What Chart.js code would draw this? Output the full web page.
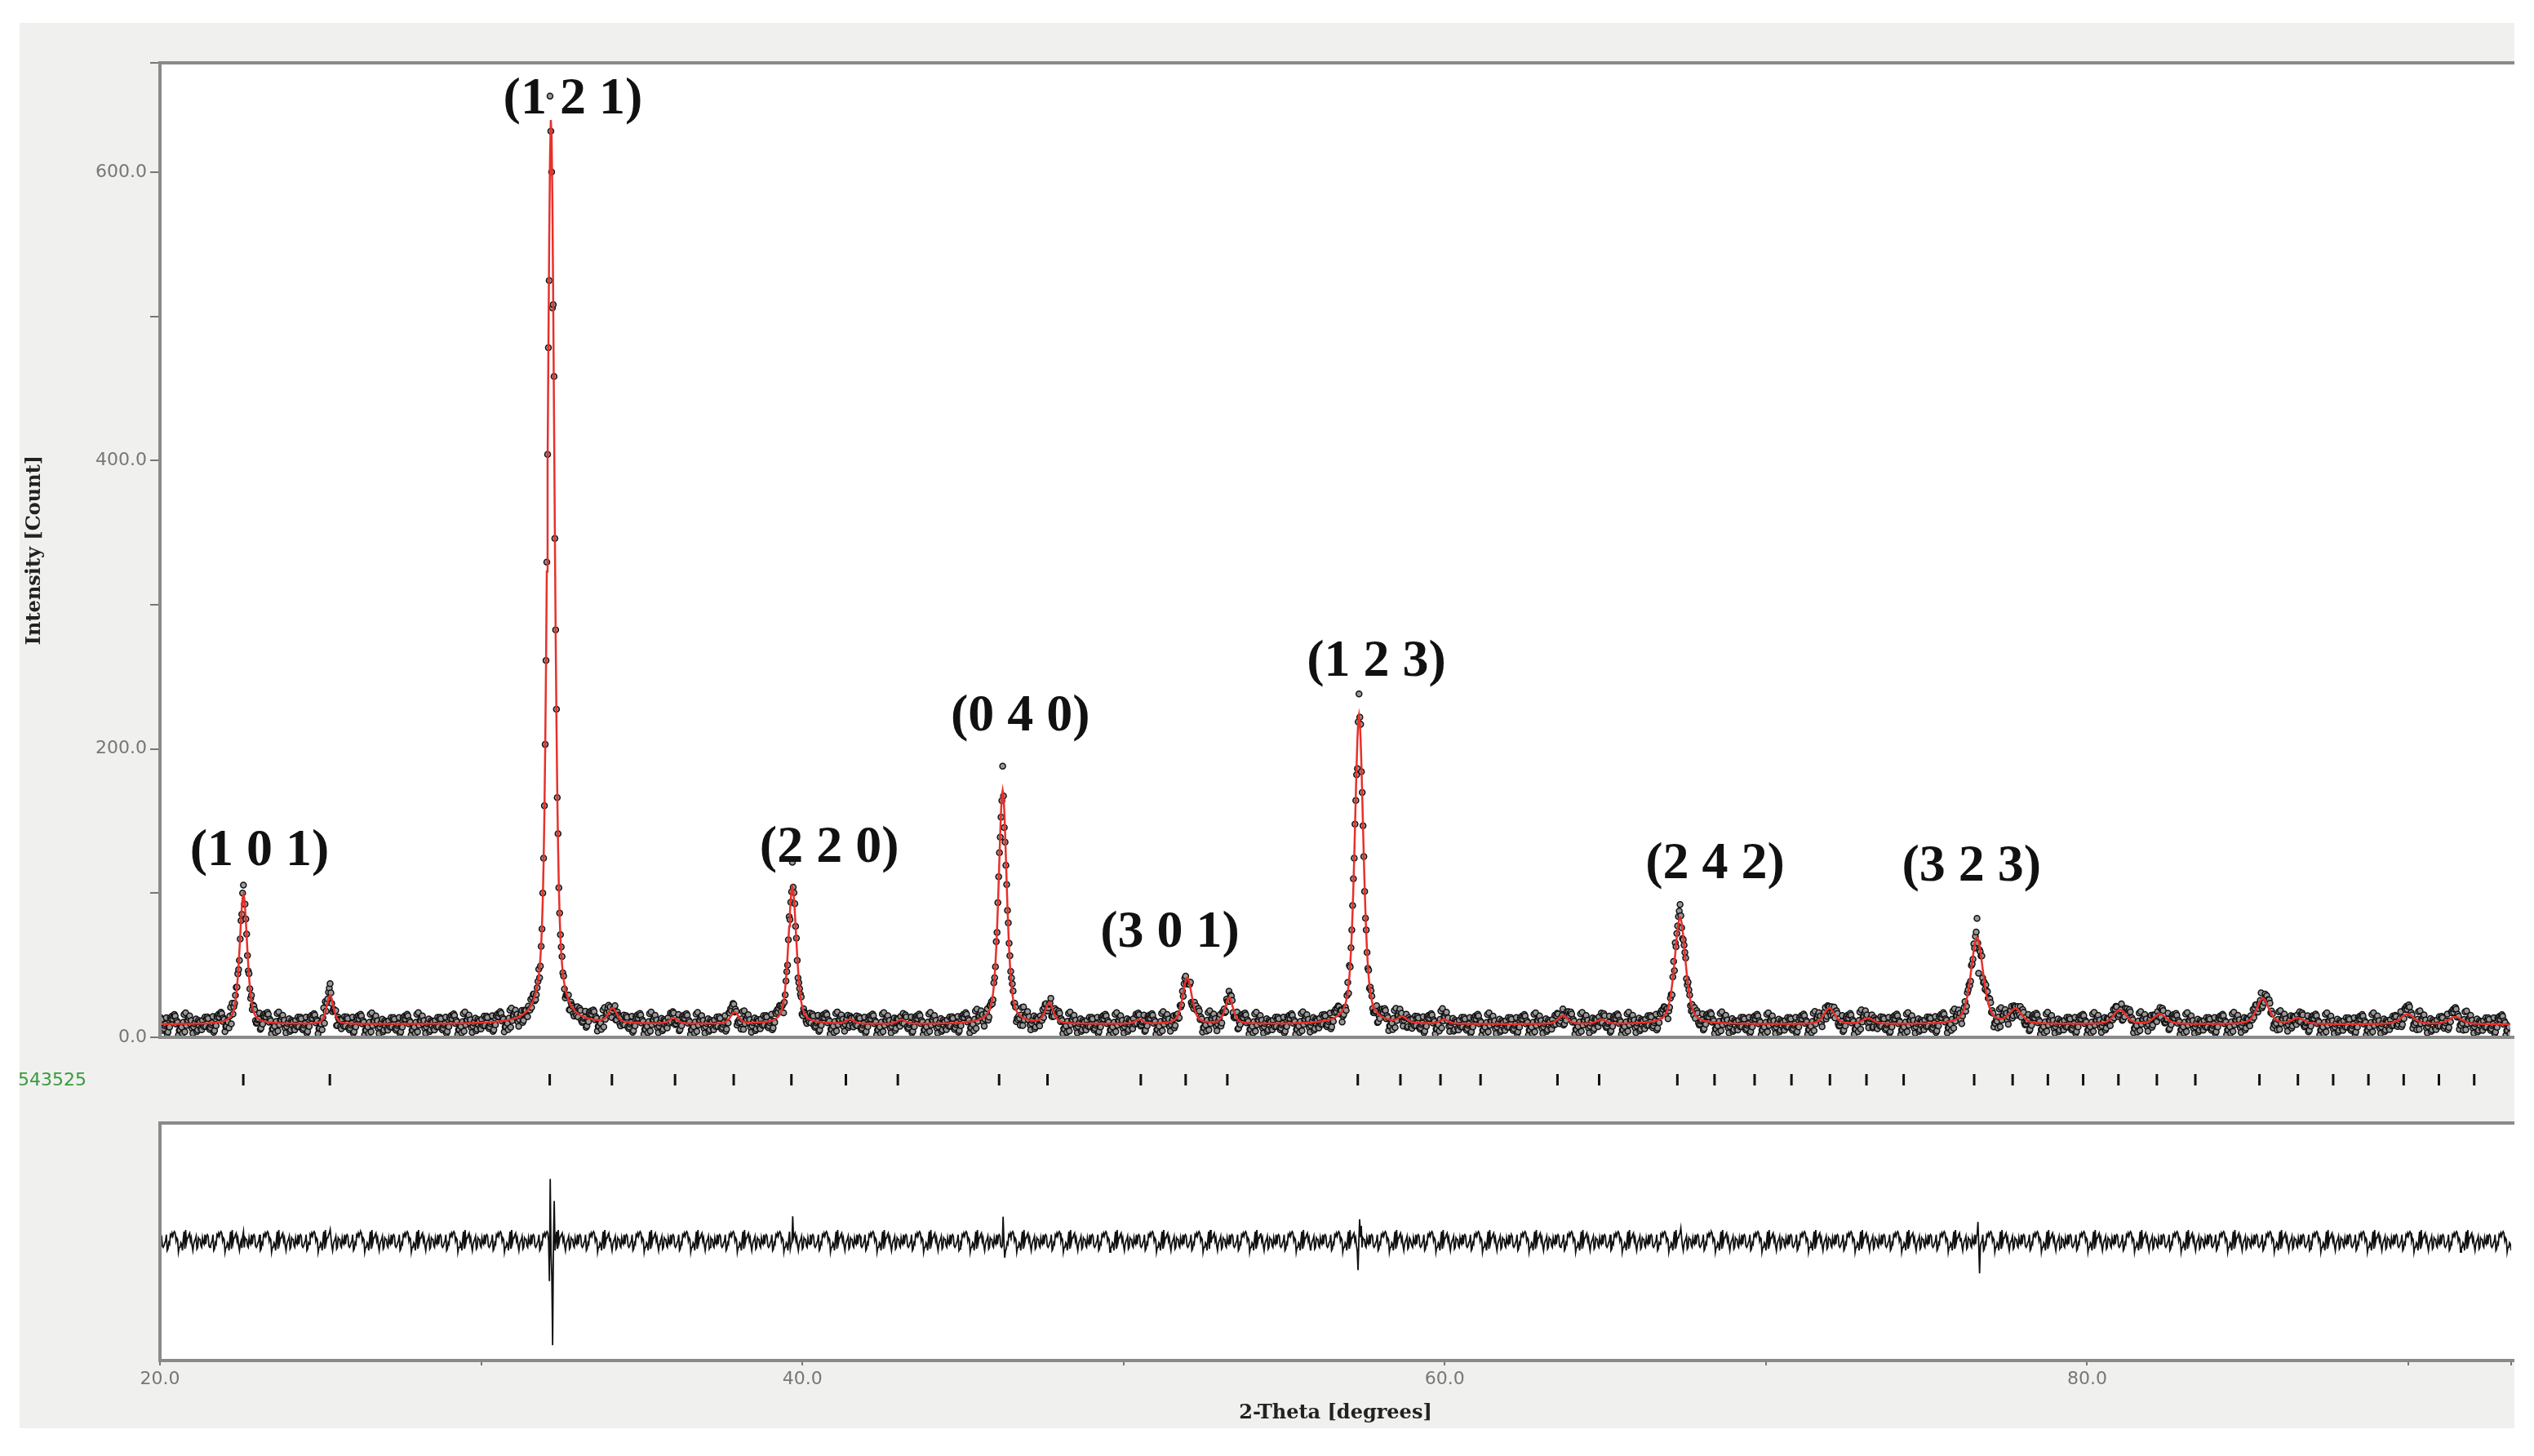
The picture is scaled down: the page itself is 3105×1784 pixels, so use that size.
<!DOCTYPE html>
<html><head><meta charset="utf-8">
<script src="https://cdn.jsdelivr.net/npm/chart.js@4.4.0/dist/chart.umd.min.js"></script>
<style>
body{margin:0;background:#fff;width:3105px;height:1784px;position:relative;overflow:hidden}
#panel{position:absolute;left:24px;top:28px;width:3057px;height:1722px;background:#f0f0ef}
.c{position:absolute;left:24px;width:3057px}
#w1{top:28px;height:1262px}
#w2{top:1300px;height:46px}
#w3{top:1340px;height:410px}
#phase{position:absolute;left:22px;top:1310px;font:22px "DejaVu Sans";color:#3a9a3a}
</style></head><body>
<div id="panel"></div>
<div class="c" id="w1"><canvas id="c1"></canvas></div>
<div class="c" id="w2"><canvas id="c2"></canvas></div>
<div class="c" id="w3"><canvas id="c3"></canvas></div>
<div id="phase">543525</div>
<script>
// ---- data ----
const xRange = [20, 93.2];
const background = 9;
const peakPos    = [22.6, 25.3, 32.18, 34.1, 36.0, 37.9, 39.7, 41.5, 43.1, 46.25, 47.7, 50.5, 52.0, 53.3, 57.35, 58.7, 60.0, 63.7, 64.9, 67.35, 72.0, 73.2, 76.6, 77.8, 81.05, 82.3, 85.5, 86.6, 90.0, 91.5];
const peakHeight = [90,   20,   628,   10,   4,    8,    95,   3,    3,    162,   14,   3,    32,   18,   214,   4,    3,    6,    3,    74,    11,   4,    60,   10,   10,   7,    18,   4,    7,    5];
const peakFwhm   = [0.28, 0.25, 0.26,  0.3,  0.3,  0.3,  0.3,  0.3,  0.3,  0.3,   0.3,  0.3,  0.34, 0.3,  0.32,  0.3,  0.3,  0.35, 0.35, 0.4,   0.4,  0.4,  0.45, 0.45, 0.45, 0.45, 0.45, 0.45, 0.5,  0.5];
const noise = [3,-4,1,5,-2,-6,2,4,-1,-3,6,0,-5,2,3,-2,-4,5,1,-1,4,-3,-6,2,0,3,-2,5,-4,1,-1,2,-5,4,0,-3,6,-2,1,-4,3,2,-1,-5,4,-7,2,5,-3,0,7,-2,-4,1,3,-6,4,-1];
const resid = [[22.6,12],[22.55,-6],[25.3,8],[32.125,-30],[32.15,42],[32.2,-20],[32.225,-68],[32.275,30],[39.7,15],[39.65,-10],[46.25,18],[46.3,-16],[57.35,14],[57.3,-18],[57.4,16],[67.35,9],[76.6,10],[76.65,-18]];
const reflections = [22.6,25.3,32.16,34.1,36.07,37.9,39.7,41.4,43.02,46.18,47.69,50.6,52.0,53.3,57.37,58.7,59.95,61.2,63.6,64.9,67.34,68.5,69.75,70.9,72.1,73.24,74.4,76.6,77.8,78.9,80.0,81.1,82.3,83.5,85.5,86.7,87.8,88.9,90.0,91.1,92.2];
const hkl = [["(1 0 1)",23.1,129],["(1 2 1)",32.86,650],["(2 2 0)",40.85,131],["(0 4 0)",46.8,222],["(3 0 1)",51.46,72],["(1 2 3)",57.89,260],["(2 4 2)",68.44,120],["(3 2 3)",76.43,118]];
const yTicks = {min:0,max:676,step:100};
const step = 0.025;
// ---- build profiles ----
function prof(x){let s=background;for(let i=0;i<peakPos.length;i++){const g=peakFwhm[i]/2;const d=(x-peakPos[i])/g;s+=peakHeight[i]*(0.5/(1+d*d)+0.5*Math.exp(-0.693*d*d));}return s;}
const calc=[],obs=[],diff=[];
let k=0;
for(let x=xRange[0];x<=xRange[1]+1e-9;x+=step,k++){
  const xr=Math.round(x*1000)/1000;const c=prof(xr);
  let r=noise[(k*7)%noise.length]*1.1;
  for(const [p,v] of resid){if(Math.abs(p-xr)<step/2)r+=v;}
  calc.push({x:xr,y:c});obs.push({x:xr,y:Math.max(0,c+r)});diff.push({x:xr,y:r});
}
const grey='#777';
const bg={id:'bg',beforeDraw(ch){const a=ch.chartArea,ctx=ch.ctx;ctx.save();ctx.fillStyle='#fff';ctx.fillRect(a.left,a.top,a.right-a.left+20,a.bottom-a.top);ctx.restore();}};
const border={id:'border',afterDraw(ch){const a=ch.chartArea,ctx=ch.ctx;ctx.save();ctx.strokeStyle='#8a8a8a';ctx.lineWidth=4;ctx.beginPath();ctx.moveTo(a.right+10,a.top);ctx.lineTo(a.left,a.top);ctx.lineTo(a.left,a.bottom);ctx.lineTo(a.right+10,a.bottom);ctx.stroke();ctx.restore();}};
const labels={id:'hkl',afterDraw(ch){const ctx=ch.ctx;ctx.save();ctx.font='600 64px "Liberation Serif"';ctx.fillStyle='#111';ctx.textAlign='center';ctx.textBaseline='middle';for(const [t,x,y] of hkl){ctx.fillText(t,ch.scales.x.getPixelForValue(x),ch.scales.y.getPixelForValue(y));}ctx.restore();}};
const opt0={responsive:true,maintainAspectRatio:false,animation:false,events:[],plugins:{legend:{display:false},tooltip:{enabled:false}}};
new Chart(document.getElementById('c1'),{type:'scatter',
 data:{datasets:[
  {data:calc,showLine:true,borderColor:'#e8302a',borderWidth:2.5,pointRadius:0,order:1},
  {data:obs,showLine:false,pointRadius:3.5,backgroundColor:'#999',borderColor:'#111',borderWidth:1.5,order:2}
 ]},
 options:{...opt0,layout:{padding:{top:49,bottom:19,right:0,left:0}},
  scales:{x:{type:'linear',min:xRange[0],max:xRange[1],display:false},
   y:{min:yTicks.min,max:yTicks.max,afterFit(s){s.width=172;},border:{display:false},
    grid:{drawOnChartArea:false,tickLength:12,color:grey,lineWidth:2},
    ticks:{stepSize:yTicks.step,color:grey,font:{family:'DejaVu Sans',size:22},padding:4,callback:v=>v%200===0?v.toFixed(1):''},
    title:{display:true,text:'Intensity [Count]',color:'#222',font:{family:'DejaVu Serif',size:24,weight:'bold'},padding:{bottom:20}}}}},
 plugins:[bg,border,labels]});
new Chart(document.getElementById('c2'),{type:'scatter',
 data:{datasets:[{data:reflections.map(v=>({x:v,y:0})),pointStyle:'line',rotation:90,radius:7,borderWidth:3,borderColor:'#111'}]},
 options:{...opt0,layout:{padding:{left:172,right:0,top:0,bottom:0}},
  scales:{x:{type:'linear',min:xRange[0],max:xRange[1],display:false},y:{min:-1,max:1,display:false}}}});
new Chart(document.getElementById('c3'),{type:'scatter',
 data:{datasets:[{data:diff,showLine:true,borderColor:'#111',borderWidth:1.8,pointRadius:0}]},
 options:{...opt0,layout:{padding:{top:36,left:0,right:0,bottom:0}},
  scales:{x:{type:'linear',min:xRange[0],max:xRange[1],afterFit(s){s.height=83;},border:{display:false},
    grid:{drawOnChartArea:false,tickLength:6,color:grey,lineWidth:2},
    ticks:{stepSize:10,color:grey,font:{family:'DejaVu Sans',size:22},padding:4,maxRotation:0,autoSkip:false,callback:v=>v%20===0?v.toFixed(1):''},
    title:{display:true,text:'2-Theta [degrees]',color:'#222',font:{family:'DejaVu Serif',size:24,weight:'bold'},padding:{top:0}}},
   y:{min:-83,max:82,afterFit(s){s.width=172;},ticks:{display:false},grid:{display:false},border:{display:false}}}},
 plugins:[bg,border]});
</script></body></html>
